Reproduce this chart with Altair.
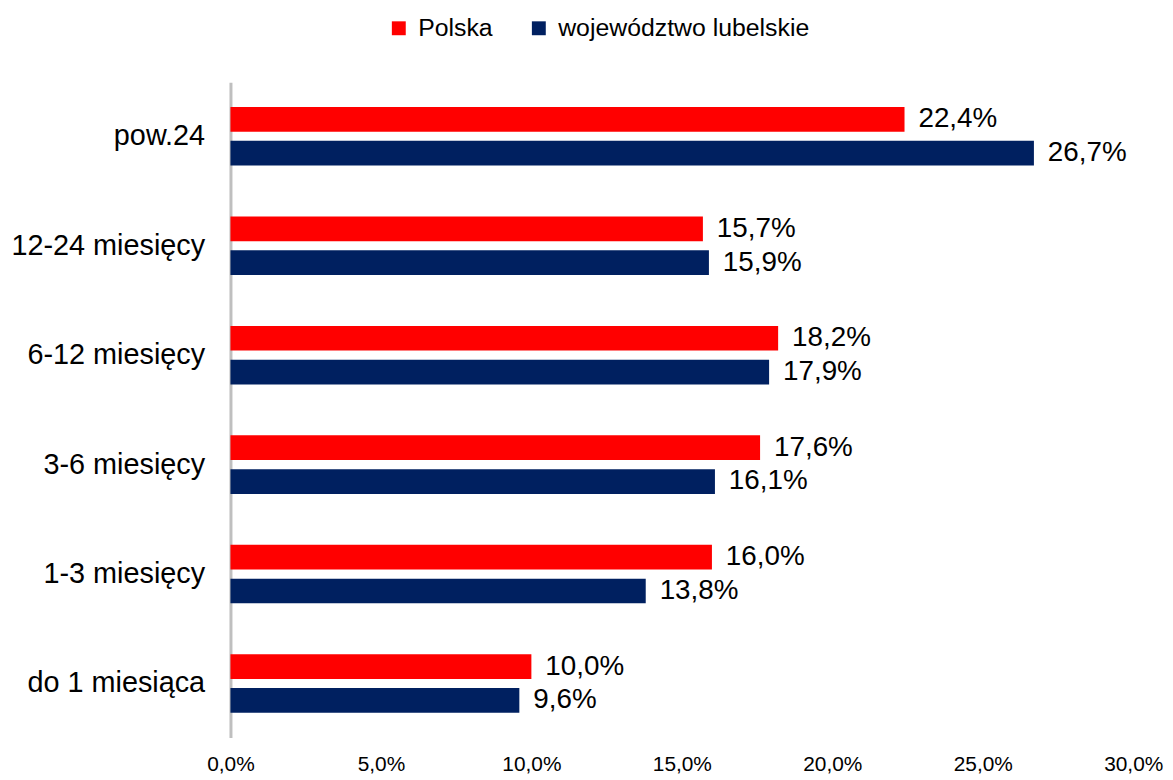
import altair as alt
import pandas as pd

categories = ["pow.24", "12-24 miesięcy", "6-12 miesięcy", "3-6 miesięcy", "1-3 miesięcy", "do 1 miesiąca"]
series = ["Polska", "województwo lubelskie"]
polska = [22.4, 15.7, 18.2, 17.6, 16.0, 10.0]
lubelskie = [26.7, 15.9, 17.9, 16.1, 13.8, 9.6]
colors = ["#FF0000", "#002060"]
x_ticks = [0, 5, 10, 15, 20, 25, 30]

rows = []
for c, p, l in zip(categories, polska, lubelskie):
    rows.append({"cat": c, "series": series[0], "value": p})
    rows.append({"cat": c, "series": series[1], "value": l})
df = pd.DataFrame(rows)
df["label"] = df["value"].map(lambda v: f"{v:.1f}".replace(".", ",") + "%")

FONT = "Liberation Sans"

y_enc = alt.Y(
    "cat:N",
    sort=categories,
    title=None,
    scale=alt.Scale(paddingInner=0.465, paddingOuter=0.227),
    axis=alt.Axis(
        domain=True, domainColor="#BFBFBF", domainWidth=3,
        ticks=False, labelFontSize=29, labelFont=FONT, labelColor="#000000",
        labelPadding=26, labelLimit=400,
    ),
)
yoff = alt.YOffset("series:N", sort=series, scale=alt.Scale(paddingInner=0.27))
x_enc = alt.X(
    "value:Q",
    title=None,
    scale=alt.Scale(domain=[0, 30], nice=False),
    axis=alt.Axis(
        values=x_ticks, domain=False, ticks=False, grid=False,
        labelFontSize=21, labelFont=FONT, labelColor="#000000", labelPadding=16,
        labelFlush=False, labelOverlap=False,
        labelExpr="replace(format(datum.value, '.1f'), '.', ',') + '%'",
    ),
)

bars = alt.Chart(df).mark_bar(cornerRadius=0).encode(
    y=y_enc,
    yOffset=yoff,
    x=x_enc,
    color=alt.Color(
        "series:N",
        sort=series,
        scale=alt.Scale(domain=series, range=colors),
        legend=alt.Legend(
            title=None, orient="none", legendX=157, legendY=-67,
            direction="horizontal", columns=2, symbolType="square",
            symbolSize=196, symbolStrokeWidth=0, labelFontSize=25, labelFont=FONT,
            labelColor="#000000", labelOffset=7, columnPadding=33, padding=0,
            labelLimit=500,
        ),
    ),
)

labels = alt.Chart(df).mark_text(
    align="left", baseline="middle", dx=14, fontSize=28, font=FONT, color="#000000"
).encode(
    y=alt.Y("cat:N", sort=categories),
    yOffset=yoff,
    x=alt.X("value:Q"),
    text="label:N",
)

chart = (
    alt.layer(bars, labels)
    .properties(
        width=909, height=660,
        autosize=alt.AutoSizeParams(type="none"),
        padding={"left": 224, "top": 72, "right": 32, "bottom": 40},
        background="#FFFFFF",
    )
    .configure_view(strokeWidth=0, stroke=None)
)

chart.save("out.html", embed_options={"renderer": "svg", "actions": False})
